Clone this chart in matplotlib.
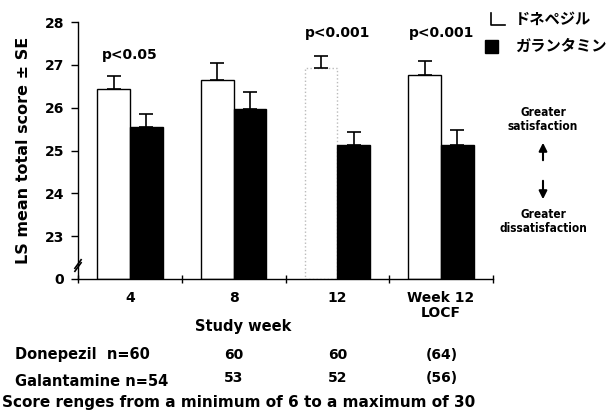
import matplotlib
matplotlib.use("Agg")
import matplotlib.pyplot as plt
import numpy as np

weeks = ["4", "8", "12", "Week 12\nLOCF"]
donepezil = [26.44, 26.65, 26.93, 26.77]
donepezil_se = [0.30, 0.40, 0.27, 0.33]
galantamine = [25.56, 25.98, 25.14, 25.14]
galantamine_se = [0.30, 0.38, 0.30, 0.35]
pvalues = ["p<0.05", "", "p<0.001", "p<0.001"]
ytick_vals = [22, 23, 24, 25, 26, 27, 28]
ytick_labels = ["0", "23", "24", "25", "26", "27", "28"]
n_donepezil = ["Donepezil  n=60", "60", "60", "(64)"]
n_galantamine = ["Galantamine n=54", "53", "52", "(56)"]
legend_labels = ["ドネペジル", "ガランタミン"]

plt.rcParams['font.family'] = ['DejaVu Sans']
plt.rcParams['font.weight'] = 'bold'

fig = plt.figure(figsize=(6.10, 4.12), dpi=100)
ax = fig.add_axes([78/610, 1-279/412, 415/610, 257/412])

x = np.arange(len(weeks))
w = 0.315
base = 22
edgecols = ["black", "black", "#bbbbbb", "black"]
lstyles = ["-", "-", ":", "-"]
bars = ax.bar(x - w/2, np.array(donepezil) - base, width=w, bottom=base, color="white",
              edgecolor=edgecols, linewidth=1.0, zorder=2)
for b, ls in zip(bars, lstyles):
    b.set_linestyle(ls)
ax.bar(x + w/2, np.array(galantamine) - base, width=w, bottom=base, color="black",
       edgecolor="black", linewidth=1.0, zorder=2)
ax.errorbar(x - w/2, donepezil, yerr=[np.zeros(4), donepezil_se], fmt="none",
            ecolor="black", elinewidth=1.2, capsize=5, capthick=1.2, zorder=3)
ax.errorbar(x + w/2, galantamine, yerr=[np.zeros(4), galantamine_se], fmt="none",
            ecolor="black", elinewidth=1.2, capsize=5, capthick=1.2, zorder=3)

for i, p in enumerate(pvalues):
    if p:
        yy = 27.23 if i == 0 else 27.75
        ax.text(x[i], yy, p, ha="center", va="center", fontsize=10, fontweight="bold")

ax.set_xlim(-0.5, 3.5)
ax.set_ylim(22, 28)
ax.set_yticks(ytick_vals)
ax.set_yticklabels(ytick_labels, fontsize=10, fontweight="bold")
ax.set_xticks([-0.5, 0.5, 1.5, 2.5, 3.5])
ax.set_xticklabels([])
ax.tick_params(axis="y", direction="out", length=5, width=1, pad=5)
ax.tick_params(axis="x", direction="inout", length=6, width=1)
for s in ["top", "right"]:
    ax.spines[s].set_visible(False)
ax.spines["left"].set_linewidth(1.0)
ax.spines["bottom"].set_linewidth(1.0)

# axis break mark
ax.plot([-0.53, -0.47], [22.25, 22.45], color="black", lw=1.2, clip_on=False, zorder=5)
ax.plot([-0.53, -0.47], [22.18, 22.38], color="black", lw=1.2, clip_on=False, zorder=5)

for i, lab in enumerate(weeks):
    ax.text(x[i], 21.72, lab, ha="center", va="top", fontsize=10, fontweight="bold",
            transform=ax.transData, linespacing=1.05)

ax.set_ylabel("LS mean total score ± SE", fontsize=11.5, fontweight="bold", labelpad=10)

fig.text(243/610, 1-327/412, "Study week", ha="center", va="center", fontsize=10.5, fontweight="bold")
fig.text(15/610, 1-355/412, n_donepezil[0], ha="left", va="center", fontsize=10.5, fontweight="bold")
fig.text(15/610, 1-382/412, n_galantamine[0], ha="left", va="center", fontsize=10.5, fontweight="bold")
for i in range(1, 4):
    xf = (78 + (x[i] + 0.5) * 104) / 610
    fig.text(xf, 1-355/412, n_donepezil[i], ha="center", va="center", fontsize=10, fontweight="bold")
    fig.text(xf, 1-378/412, n_galantamine[i], ha="center", va="center", fontsize=10, fontweight="bold")
fig.text(2/610, 1-402/412, "Score renges from a minimum of 6 to a maximum of 30",
         ha="left", va="center", fontsize=11, fontweight="bold")

# legend
lx, ly = 491, 13
fig.add_artist(plt.Line2D([lx/610, lx/610, (lx+14)/610], [1-ly/412, 1-(ly+12)/412, 1-(ly+12)/412],
                          color="black", lw=1.2))
fig.text(515/610, 1-19/412, legend_labels[0], ha="left", va="center", fontsize=11,
         family=['Noto Sans CJK JP', 'DejaVu Sans'], fontweight="bold")
fig.add_artist(plt.Rectangle((485/610, 1-53/412), 13/610, 13/412, color="black",
                             transform=fig.transFigure))
fig.text(515/610, 1-46/412, legend_labels[1], ha="left", va="center", fontsize=11,
         family=['Noto Sans CJK JP', 'DejaVu Sans'], fontweight="bold")

# right annotation
fig.text(543/610, 1-120/412, "Greater\nsatisfaction", ha="center", va="center", fontsize=8.5,
         fontweight="bold", linespacing=1.1, family=['DejaVu Sans'], fontstretch='condensed')
fig.text(543/610, 1-222/412, "Greater\ndissatisfaction", ha="center", va="center", fontsize=8.5,
         fontweight="bold", linespacing=1.1, family=['DejaVu Sans'], fontstretch='condensed')
fig.add_artist(matplotlib.patches.FancyArrowPatch((543/610, 1-163/412), (543/610, 1-140/412),
               transform=fig.transFigure, arrowstyle="-|>", mutation_scale=12, color="black", lw=1.5))
fig.add_artist(matplotlib.patches.FancyArrowPatch((543/610, 1-178/412), (543/610, 1-202/412),
               transform=fig.transFigure, arrowstyle="-|>", mutation_scale=12, color="black", lw=1.5))

fig.savefig("out.png", dpi=100)
